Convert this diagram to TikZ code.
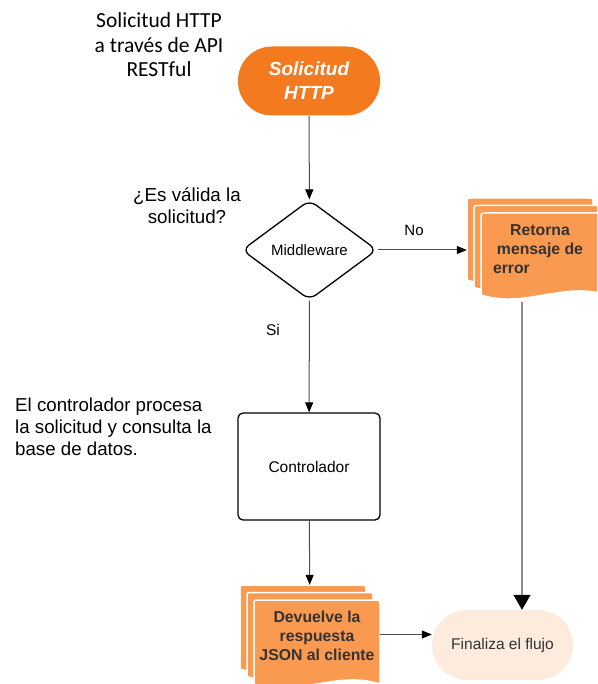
\documentclass[tikz,border=0pt]{standalone}
\usepackage{fontspec}
\setmainfont{Liberation Sans}
\newfontfamily\calfont{Carlito}
\usetikzlibrary{arrows.meta,shapes.geometric}

\definecolor{startorange}{HTML}{F47A1F}
\definecolor{docorange}{HTML}{FA9A50}
\definecolor{endpeach}{HTML}{FDEBDE}
\definecolor{inktext}{HTML}{333333}
\definecolor{linkgray}{HTML}{4D4D4D}
\definecolor{longgray}{HTML}{8C8C8C}

% one sheet of a stacked document: left, top, width, height to the wavy base
\newcommand{\docsheet}[4]{%
  \path[sheet] (#1,#2+#4) -- (#1,#2+5) .. controls (#1,#2) .. (#1+5,#2)
    -- (#1+#3-5,#2) .. controls (#1+#3,#2) .. (#1+#3,#2+5)
    -- (#1+#3,#2+#4)
    .. controls (#1+0.65*#3,#2+#4-14) and (#1+0.35*#3,#2+#4+14) .. (#1,#2+#4)
    -- cycle;}

\begin{document}
\begin{tikzpicture}[x=1pt,y=-1pt,
  sheet/.style={fill=docorange, draw=white, line width=1.5pt},
  caption/.style={inner sep=0pt, text=black},
  startpill/.style={fill=startorange, draw=none, rounded corners=34pt,
    minimum width=142pt, minimum height=69pt, inner sep=0pt, align=center,
    text=white, font=\bfseries\itshape\fontsize{19}{24}\selectfont},
  decision/.style={diamond, draw=black, line width=1.3pt, fill=white,
    rounded corners=8pt, minimum width=135pt, minimum height=100pt,
    inner sep=0pt, font=\fontsize{15}{18}\selectfont},
  process/.style={rectangle, draw=black, line width=1.3pt, fill=white,
    rounded corners=5pt, minimum width=142pt, minimum height=107pt,
    font=\fontsize{15.5}{18}\selectfont},
  endpill/.style={fill=endpeach, draw=none, rounded corners=35pt,
    minimum width=141pt, minimum height=70pt, inner sep=0pt,
    text=inktext, font=\fontsize{15.5}{18}\selectfont},
  stack/.style={draw=none, inner sep=0pt},
  doclabel/.style={inner sep=0pt, text=inktext,
    font=\bfseries\fontsize{15.8}{19.2}\selectfont},
  link/.style={draw=linkgray, line width=1pt,
    -{Triangle[length=10pt,width=8pt,color=black]}},
  longlink/.style={draw=longgray, line width=1.2pt,
    -{Triangle[length=15pt,width=17pt,color=black]}}]

\useasboundingbox (0,0) rectangle (597,684);
\begin{scope}
\clip (0,0) rectangle (597,684);

% notes beside the flow
\node[caption, align=center, font=\calfont\fontsize{21.5}{24.5}\selectfont]
  (intro) at (159,45) {Solicitud HTTP\\a través de API\\RESTful};
\node[caption, align=center, font=\fontsize{18.8}{22}\selectfont]
  (question) at (187,206) {¿Es válida la\\solicitud?};
\node[caption, align=left, anchor=west, font=\fontsize{18.7}{22}\selectfont]
  (note) at (15,427) {El controlador procesa\\la solicitud y consulta la\\base de datos.};

% main flow
\node[startpill] (start) at (309,81) {Solicitud\\HTTP};
\node[decision] (mw) at (309.5,250) {Middleware};
\node[process] (ctrl) at (309,466.5) {Controlador};
\node[endpill] (fin) at (502.5,645) {Finaliza el flujo};

% error document stack
\docsheet{467}{198}{126}{82}
\docsheet{474}{205.5}{126}{82}
\docsheet{481}{213}{126}{82}
\node[stack, minimum width=140pt, minimum height=97pt] (err) at (537,246.5) {};
\node[doclabel, align=left] (errtxt) at (540,249)
  {\makebox[94pt][c]{Retorna}\\\makebox[94pt][c]{mensaje de}\\error};

% response document stack
\docsheet{240}{585}{126}{84}
\docsheet{247}{592.5}{126}{84}
\docsheet{254}{600}{126}{84}
\node[stack, minimum width=140pt, minimum height=99pt] (dev) at (310,634.5) {};
\node[doclabel, align=center] (devtxt) at (317,636)
  {Devuelve la\\respuesta\\JSON al cliente};

% branch labels
\node[caption, font=\fontsize{15}{18}\selectfont] (no) at (414,230) {No};
\node[caption, font=\fontsize{15.5}{18}\selectfont] (si) at (273,330) {Si};

% connectors
\draw[link] (start) -- (mw);
\draw[link] (mw.east) -- (mw.east -| err.west);
\draw[link] (mw) -- (ctrl);
\draw[link] (ctrl) -- (dev);
\draw[link] (dev.east) -- (dev.east -| fin.west);
\coordinate (errfoot) at (522,302);
\draw[longlink] (errfoot) -- (errfoot |- fin.north);
\end{scope}
\end{tikzpicture}
\end{document}
